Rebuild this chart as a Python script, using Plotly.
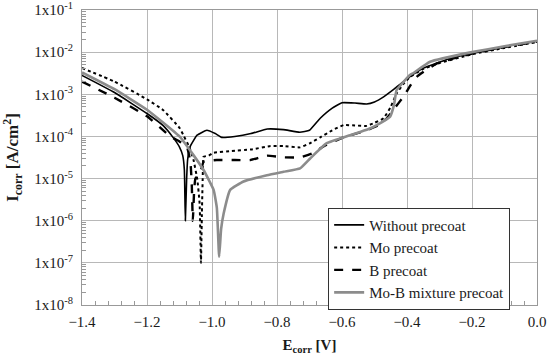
import plotly.graph_objects as go

# ---- data ----
v_without = [-1.40, -1.30, -1.20, -1.15, -1.12, -1.10, -1.09, -1.085, -1.082, -1.078, -1.075, -1.067,
             -1.046, -1.016, -0.99, -0.97, -0.93, -0.88, -0.83, -0.78, -0.73, -0.70, -0.667, -0.63,
             -0.60, -0.56, -0.524, -0.50, -0.472, -0.44, -0.411, -0.38, -0.349, -0.30, -0.268, -0.20,
             -0.144, -0.10, 0.0]
i_without = [2.8e-3, 1.1e-3, 3.5e-4, 1.8e-4, 9.5e-5, 5.6e-5, 3.5e-5, 1.6e-5, 1.0e-6, 1.0e-5, 2.8e-5, 5.8e-5,
             1.07e-4, 1.4e-4, 1.17e-4, 9.5e-5, 1.0e-4, 1.17e-4, 1.5e-4, 1.45e-4, 1.26e-4, 1.4e-4, 2.7e-4, 4.7e-4,
             6.3e-4, 6.2e-4, 5.9e-4, 6.6e-4, 8.7e-4, 1.32e-3, 2.0e-3, 3.0e-3, 4.2e-3, 5.8e-3, 7.1e-3, 9.3e-3,
             1.12e-2, 1.35e-2, 1.82e-2]

v_mo = [-1.40, -1.30, -1.20, -1.15, -1.10, -1.088, -1.07, -1.057, -1.045, -1.038, -1.034, -1.031, -1.028,
        -1.026, -1.01, -0.995, -0.94, -0.88, -0.82, -0.78, -0.73, -0.70, -0.667, -0.63, -0.595, -0.56,
        -0.524, -0.50, -0.472, -0.45, -0.432, -0.41, -0.39, -0.35, -0.30, -0.20, -0.10, 0.0]
i_mo = [4.2e-3, 2.0e-3, 7.6e-4, 4.2e-4, 1.6e-4, 1.07e-4, 5.6e-5, 2.8e-5, 9.3e-6, 2.5e-6, 1.0e-7, 1.6e-6, 1.6e-5,
        3.3e-5, 3.5e-5, 4.1e-5, 4.5e-5, 4.9e-5, 5.9e-5, 5.9e-5, 5.5e-5, 6.8e-5, 9.5e-5, 1.4e-4, 1.86e-4, 1.82e-4,
        1.78e-4, 2.1e-4, 2.7e-4, 5.0e-4, 1.05e-3, 1.8e-3, 2.6e-3, 4.0e-3, 5.5e-3, 8.9e-3, 1.26e-2, 1.74e-2]

v_b = [-1.40, -1.30, -1.20, -1.128, -1.10, -1.077, -1.066, -1.062, -1.059, -1.055, -1.051, -1.036, -1.026,
       -0.985, -0.93, -0.882, -0.831, -0.78, -0.729, -0.69, -0.657, -0.595, -0.524, -0.49, -0.462, -0.44,
       -0.411, -0.39, -0.37, -0.308, -0.20, -0.10, 0.0]
i_b = [2.0e-3, 8.3e-4, 3.0e-4, 1.0e-4, 7.6e-5, 5.6e-5, 2.3e-5, 6.3e-6, 1.0e-6, 5.0e-6, 1.0e-5, 1.35e-5, 2.5e-5,
       2.75e-5, 2.75e-5, 2.75e-5, 3.5e-5, 3.2e-5, 3.2e-5, 4.0e-5, 5.8e-5, 9.5e-5, 1.4e-4, 1.8e-4, 2.7e-4, 4.5e-4,
       8.7e-4, 1.6e-3, 2.6e-3, 5.4e-3, 9.3e-3, 1.32e-2, 1.78e-2]

v_mob = [-1.40, -1.30, -1.20, -1.10, -1.057, -1.026, -0.995, -0.985, -0.978, -0.972, -0.964, -0.944, -0.903,
         -0.831, -0.78, -0.729, -0.698, -0.647, -0.575, -0.52, -0.493, -0.452, -0.44, -0.432, -0.41, -0.39,
         -0.38, -0.329, -0.20, -0.10, 0.0]
i_mob = [3.3e-3, 1.32e-3, 4.3e-4, 1.0e-4, 3.6e-5, 1.6e-5, 5.4e-6, 2.0e-6, 1.4e-7, 6.3e-7, 1.5e-6, 5.4e-6, 8.5e-6,
         1.2e-5, 1.45e-5, 1.74e-5, 3.0e-5, 6.9e-5, 1.07e-4, 1.48e-4, 1.86e-4, 2.95e-4, 5.6e-4, 1.26e-3, 2.0e-3, 2.9e-3,
         3.2e-3, 5.9e-3, 1.0e-2, 1.38e-2, 1.86e-2]

series_names = ["Without precoat", "Mo precoat", "B precoat", "Mo-B mixture precoat"]
y_tick_vals = [1e-8, 1e-7, 1e-6, 1e-5, 1e-4, 1e-3, 1e-2, 1e-1]
y_tick_text = ["1x10<sup>-8</sup>", "1x10<sup>-7</sup>", "1x10<sup>-6</sup>", "1x10<sup>-5</sup>",
               "1x10<sup>-4</sup>", "1x10<sup>-3</sup>", "1x10<sup>-2</sup>", "1x10<sup>-1</sup>"]

FONT = "Liberation Serif, Times New Roman, serif"
TXT = "#1a1a1a"
minor_y = [m * d for d in y_tick_vals[:-1] for m in range(2, 10)]

fig = go.Figure()
fig.add_trace(go.Scatter(x=v_without, y=i_without, mode="lines", name=series_names[0],
                         line=dict(color="black", width=1.6, shape="spline", smoothing=0.35)))
fig.add_trace(go.Scatter(x=v_mo, y=i_mo, mode="lines", name=series_names[1],
                         line=dict(color="black", width=2, dash="dot", shape="spline", smoothing=0.35)))
fig.add_trace(go.Scatter(x=v_b, y=i_b, mode="lines", name=series_names[2],
                         line=dict(color="black", width=2.4, dash="dash", shape="spline", smoothing=0.35)))
fig.add_trace(go.Scatter(x=v_mob, y=i_mob, mode="lines", name=series_names[3],
                         line=dict(color="#8c8c8c", width=2.6, shape="spline", smoothing=0.35)))

fig.update_layout(
    width=550, height=361,
    margin=dict(l=82, r=13, t=10, b=56),
    paper_bgcolor="white", plot_bgcolor="white",
    font=dict(family=FONT, size=15, color=TXT),
    showlegend=True,
    legend=dict(x=0.541, y=0.33, xanchor="left", yanchor="top",
                bgcolor="white", bordercolor="#333", borderwidth=1,
                font=dict(family=FONT, size=15, color=TXT),
                tracegroupgap=0, itemwidth=30),
)
fig.update_xaxes(
    range=[-1.4, 0.0], dtick=0.2, tick0=-1.4, tickformat=".1f", automargin=False,
    tickfont=dict(family=FONT, size=15, color=TXT), ticklabelstandoff=3, ticklabeloverflow="allow",
    showgrid=True, gridcolor="#b8b8b8", gridwidth=1,
    showline=True, linecolor="#999", linewidth=1, mirror=True,
    ticks="inside", ticklen=0, zeroline=False,
    minor=dict(dtick=0.04, ticks="inside", ticklen=4, tickcolor="#999", showgrid=False),
    title=dict(text="<b>E<sub>corr</sub> [V]</b>", font=dict(family=FONT, size=15, color=TXT), standoff=10),
)
fig.update_yaxes(
    type="log", range=[-8, -1], tickvals=y_tick_vals, ticktext=y_tick_text, automargin=False,
    tickfont=dict(family=FONT, size=15, color=TXT), ticklabelstandoff=5, ticklabeloverflow="allow",
    showgrid=True, gridcolor="#b8b8b8", gridwidth=1,
    showline=True, linecolor="#999", linewidth=1, mirror=True,
    ticks="inside", ticklen=0, zeroline=False,
    minor=dict(tickmode="array", tickvals=minor_y, ticks="inside", ticklen=4, tickcolor="#999", showgrid=False),
    title=dict(text="<b>I<sub>corr</sub> [A/cm<sup>2</sup>]</b>", font=dict(family=FONT, size=17, color=TXT), standoff=20),
)

# remove the browser's default 8px body margin so the figure sits at the page origin
fig.write_html("out.html", config={"displayModeBar": False},
               post_script="document.body.style.margin='0px';")
